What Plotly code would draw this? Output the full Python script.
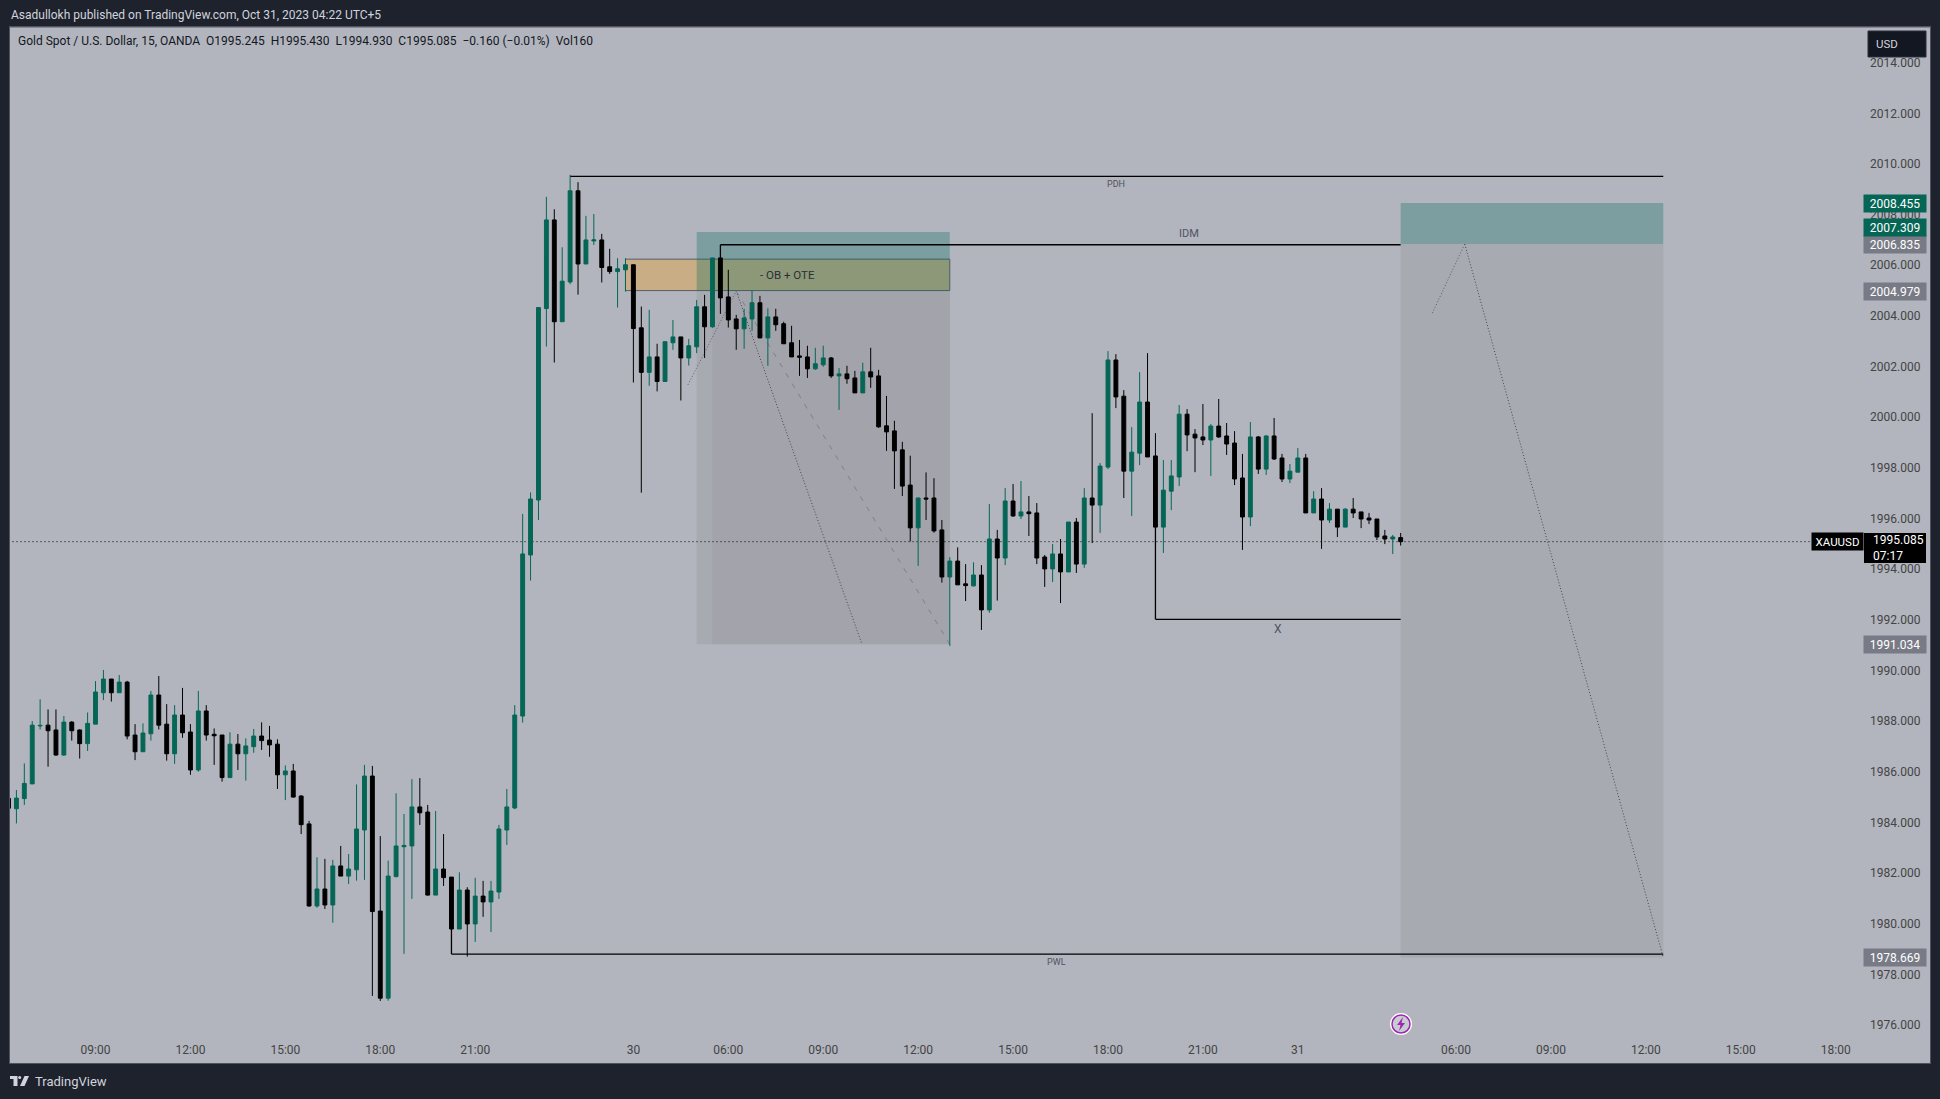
import plotly.graph_objects as go

open_ = [1984.95, 1984.54, 1984.94, 1985.52, 1987.81, 1987.84, 1987.65, 1986.66, 1987.96, 1987.65,
         1987.11, 1987.88, 1989.12, 1989.66, 1989.12, 1989.54, 1987.45, 1986.79, 1987.50, 1989.03,
         1987.88, 1986.71, 1988.24, 1987.57, 1986.07, 1988.40, 1987.48, 1987.45, 1985.77, 1987.09,
         1986.71, 1986.99, 1987.41, 1987.25, 1987.09, 1985.88, 1986.03, 1985.04, 1983.94, 1980.70,
         1981.37, 1980.74, 1982.28, 1981.88, 1982.13, 1983.70, 1985.83, 1980.50, 1977.06, 1981.86,
         1983.04, 1983.07, 1984.61, 1984.41, 1981.13, 1982.16, 1981.84, 1979.79, 1981.33, 1979.99,
         1981.09, 1980.86, 1981.25, 1983.70, 1984.57, 1988.20, 1994.56, 1996.73, 2004.29, 2007.79,
         2003.77, 2005.34, 2008.94, 2006.05, 2006.96, 2007.00, 2005.94, 2005.75, 2005.82, 2006.02,
         2003.53, 2001.77, 2002.38, 2001.41, 2002.94, 2003.17, 2002.34, 2002.78, 2004.36, 2003.57,
         2006.29, 2004.75, 2003.88, 2003.49, 2003.88, 2004.52, 2003.13, 2003.96, 2003.69, 2002.94,
         2002.42, 2002.38, 2001.91, 2002.07, 2002.34, 2001.63, 2001.71, 2001.55, 2000.96, 2001.79,
         2001.63, 1999.66, 1999.46, 1998.71, 1997.32, 1995.63, 1996.81, 1996.81, 1995.55, 1993.69,
         1994.32, 1993.42, 1993.34, 1993.77, 1992.39, 1995.19, 1994.44, 1996.69, 1996.10, 1996.26,
         1996.22, 1994.48, 1994.01, 1994.60, 1993.89, 1995.86, 1994.20, 1996.81, 1996.53, 1998.03,
         2002.26, 2000.83, 1997.87, 1998.58, 2000.60, 1998.47, 1995.66, 1997.08, 1997.64, 2000.12,
         1999.33, 1999.22, 1999.10, 1999.65, 1999.26, 1998.98, 1997.60, 1996.06, 1999.22, 1997.95,
         1999.26, 1998.39, 1997.56, 1997.83, 1998.39, 1996.22, 1996.77, 1995.94, 1996.37, 1995.66,
         1996.37, 1996.26, 1996.02, 1995.98, 1995.31, 1995.19, 1995.245]
high = [1985.08, 1985.28, 1986.33, 1988.00, 1988.86, 1988.46, 1988.46, 1988.20, 1988.00, 1987.67,
        1988.34, 1989.58, 1990.02, 1989.66, 1989.82, 1989.59, 1987.88, 1987.91, 1989.19, 1989.78,
        1988.67, 1988.63, 1989.31, 1987.88, 1989.19, 1988.63, 1987.71, 1987.45, 1987.56, 1987.49,
        1987.32, 1987.69, 1987.95, 1987.81, 1987.28, 1986.25, 1986.31, 1985.08, 1984.06, 1982.62,
        1982.56, 1982.52, 1983.07, 1982.75, 1985.50, 1986.27, 1986.23, 1983.46, 1982.49, 1985.15,
        1984.33, 1985.71, 1985.75, 1984.69, 1984.45, 1983.54, 1981.84, 1982.03, 1981.44, 1981.81,
        1981.69, 1981.69, 1983.90, 1985.32, 1988.63, 1996.18, 1997.03, 2004.33, 2008.70, 2008.21,
        2006.71, 2009.57, 2009.28, 2007.95, 2008.02, 2007.24, 2006.65, 2006.28, 2006.28, 2006.02,
        2004.37, 2004.24, 2002.90, 2002.99, 2003.84, 2003.17, 2003.09, 2004.63, 2004.83, 2006.29,
        2006.29, 2005.82, 2004.04, 2004.28, 2005.00, 2004.79, 2004.30, 2004.28, 2003.77, 2003.61,
        2003.05, 2002.82, 2002.74, 2002.82, 2002.38, 2001.94, 2002.03, 2001.83, 2002.15, 2002.74,
        2001.87, 2000.84, 1999.86, 1999.03, 1998.48, 1996.82, 1997.82, 1997.59, 1995.94, 1994.47,
        1994.86, 1994.20, 1994.27, 1994.16, 1996.57, 1995.55, 1997.20, 1997.36, 1997.48, 1996.89,
        1996.61, 1994.56, 1994.99, 1995.19, 1995.86, 1996.02, 1997.20, 2000.16, 1998.19, 2002.61,
        2002.49, 2001.07, 1999.61, 2001.78, 2002.53, 1999.37, 1998.31, 1998.31, 2000.48, 2000.32,
        1999.53, 2000.52, 1999.73, 2000.72, 1999.77, 1999.45, 1998.55, 1999.81, 1999.26, 1999.28,
        1999.97, 1998.55, 1998.15, 1998.78, 1998.55, 1997.08, 1997.20, 1996.61, 1996.37, 1996.41,
        1996.81, 1996.26, 1996.22, 1995.98, 1995.55, 1995.35, 1995.43]
low = [1984.49, 1983.96, 1984.69, 1985.52, 1987.67, 1986.20, 1986.63, 1986.63, 1987.23, 1986.52,
       1986.82, 1987.88, 1988.83, 1988.77, 1989.12, 1987.28, 1986.46, 1986.79, 1987.23, 1987.67,
       1986.44, 1986.31, 1987.34, 1985.88, 1986.00, 1987.23, 1986.27, 1985.61, 1985.77, 1986.07,
       1985.65, 1986.75, 1986.86, 1986.59, 1985.32, 1984.88, 1984.98, 1983.54, 1980.67, 1980.63,
       1980.58, 1980.04, 1981.88, 1981.57, 1981.70, 1981.73, 1977.15, 1976.95, 1976.96, 1981.83,
       1978.81, 1980.98, 1983.90, 1981.11, 1981.13, 1981.49, 1979.79, 1979.79, 1978.70, 1979.28,
       1980.27, 1979.67, 1980.98, 1983.11, 1984.52, 1987.94, 1993.55, 1995.94, 2002.79, 2002.16,
       2003.77, 2005.25, 2004.84, 2006.05, 2006.80, 2005.32, 2005.66, 2004.33, 2004.96, 2001.37,
       1997.02, 2001.24, 2001.02, 2001.41, 2002.66, 2000.66, 2002.04, 2002.53, 2002.34, 2003.53,
       2004.08, 2003.54, 2002.66, 2002.70, 2003.41, 2003.13, 2002.03, 2003.41, 2002.90, 2002.38,
       2001.63, 2001.55, 2001.87, 2001.99, 2001.55, 2000.29, 2001.32, 2000.96, 2000.96, 2001.16,
       1999.58, 1998.67, 1997.17, 1996.89, 1995.09, 1994.13, 1995.94, 1995.44, 1993.47, 1990.97,
       1993.38, 1992.74, 1993.31, 1991.60, 1992.28, 1992.76, 1994.16, 1996.07, 1995.98, 1995.31,
       1994.20, 1993.30, 1993.49, 1992.66, 1993.89, 1993.85, 1994.05, 1995.03, 1995.43, 1997.95,
       2000.36, 1996.81, 1996.10, 1998.11, 1998.43, 1995.66, 1994.64, 1996.33, 1997.28, 1998.66,
       1997.83, 1998.90, 1997.68, 1999.18, 1998.51, 1997.32, 1994.76, 1995.70, 1997.76, 1997.72,
       1998.31, 1997.44, 1997.40, 1997.83, 1996.22, 1996.22, 1994.80, 1995.82, 1995.27, 1995.66,
       1996.02, 1995.62, 1995.78, 1995.15, 1994.99, 1994.60, 1994.93]
close = [1984.56, 1984.96, 1985.54, 1987.84, 1987.83, 1987.62, 1986.66, 1987.96, 1987.62, 1987.11,
         1987.91, 1989.15, 1989.66, 1989.12, 1989.54, 1987.41, 1986.79, 1987.53, 1989.03, 1987.84,
         1986.71, 1988.24, 1987.54, 1986.07, 1988.40, 1987.45, 1987.42, 1985.77, 1987.09, 1986.71,
         1987.02, 1987.41, 1987.23, 1987.06, 1985.88, 1986.03, 1985.00, 1983.91, 1980.70, 1981.37,
         1980.74, 1982.28, 1981.88, 1982.16, 1983.74, 1985.83, 1980.48, 1977.06, 1981.88, 1983.07,
         1983.09, 1984.61, 1984.38, 1981.13, 1982.16, 1981.82, 1979.79, 1981.33, 1979.99, 1981.09,
         1980.86, 1981.29, 1983.74, 1984.61, 1988.24, 1994.60, 1996.77, 2004.33, 2007.79, 2003.77,
         2005.37, 2008.94, 2006.05, 2007.00, 2007.00, 2005.91, 2005.75, 2005.86, 2006.02, 2003.50,
         2001.77, 2002.38, 2001.41, 2002.98, 2003.17, 2002.34, 2002.82, 2004.36, 2003.57, 2006.29,
         2004.71, 2003.84, 2003.49, 2003.92, 2004.52, 2003.13, 2003.96, 2003.65, 2002.90, 2002.38,
         2002.37, 2001.91, 2002.11, 2002.34, 2001.63, 2001.71, 2001.52, 2000.96, 2001.79, 2001.59,
         1999.62, 1999.42, 1998.67, 1997.28, 1995.63, 1996.81, 1996.77, 1995.51, 1993.69, 1994.32,
         1993.38, 1993.35, 1993.77, 1992.39, 1995.19, 1994.44, 1996.69, 1996.10, 1996.26, 1996.19,
         1994.44, 1994.01, 1994.60, 1993.89, 1995.86, 1994.20, 1996.81, 1996.53, 1998.07, 2002.26,
         2000.80, 1997.87, 1998.62, 2000.60, 1998.43, 1995.66, 1997.12, 1997.68, 2000.12, 1999.30,
         1999.18, 1999.10, 1999.65, 1999.22, 1998.94, 1997.56, 1996.06, 1999.22, 1997.95, 1999.26,
         1998.35, 1997.56, 1997.87, 1998.39, 1996.22, 1996.77, 1995.94, 1996.37, 1995.66, 1996.37,
         1996.22, 1995.98, 1995.94, 1995.27, 1995.19, 1995.27, 1995.085]

# axis ticks
time_ticks = [11, 23, 35, 47, 59, 79, 91, 103, 115, 127, 139, 151, 163, 183, 195, 207, 219, 231]
time_labels = ["09:00", "12:00", "15:00", "18:00", "21:00", "30", "06:00", "09:00", "12:00", "15:00",
               "18:00", "21:00", "31", "06:00", "09:00", "12:00", "15:00", "18:00"]
price_ticks = [1976, 1978, 1980, 1982, 1984, 1986, 1988, 1990, 1992, 1994, 1996, 1998,
               2000, 2002, 2004, 2006, 2008, 2010, 2012, 2014]

# drawing levels
pdh, idm, idm_low = 2009.51, 2006.81, 2006.29
pwl, pwl_low = 1978.8, 1979.79
x_level, x_top = 1992.02, 1995.66
ob_top, ob_bottom = 2006.24, 2005.0
first_stop, first_entry, first_target = 2007.309, 2004.979, 1991.034
second_stop, second_entry, second_target = 2008.455, 2006.835, 1978.669
last_price = 1995.085

BG = "#b2b5be"
FRAME = "#1e222d"
GREEN = "#056656"
W, H = 1940, 1099

# pixel helpers for the page chrome
def px(x):
    return x / W

def py(y):
    return 1 - y / H

# bar 0 sits at 8.5 px, one bar is 7.91 px; 2012 at 113.3 px, one unit is 25.325 px
x_range = [(10 - 8.5) / 7.91, (1930 - 8.5) / 7.91]
y_range = [2012 - (1063 - 113.3) / 25.325, 2012 + (113.3 - 27.3) / 25.325]

fig = go.Figure(go.Candlestick(
    x=list(range(len(close))), open=open_, high=high, low=low, close=close,
    increasing=dict(line=dict(color=GREEN, width=1), fillcolor=GREEN),
    decreasing=dict(line=dict(color="#000000", width=1), fillcolor="#000000"),
    whiskerwidth=0, hoverinfo="skip",
))


def box(x0, x1, y0, y1, fill, line=None):
    fig.add_shape(type="rect", x0=x0, x1=x1, y0=y0, y1=y1, fillcolor=fill, layer="below",
                  line=dict(color=line or "rgba(0,0,0,0)", width=1))


def seg(x0, y0, x1, y1, color="#000000", width=1.3, dash="solid"):
    fig.add_shape(type="line", x0=x0, x1=x1, y0=y0, y1=y1, layer="below",
                  line=dict(color=color, width=width, dash=dash))


# orange order block and the first position tool
box(78, 119, ob_bottom, ob_top, "#c9ad84", "#5a5d66")
box(87, 119, first_stop, first_entry, "rgba(0,105,92,0.30)")
box(87, 119, first_entry, first_target, "rgba(130,130,130,0.22)")
box(89, 119, first_entry, first_target, "rgba(130,130,140,0.16)")
# second position tool
box(176, 209.2, second_entry, second_stop, "rgba(0,105,92,0.30)")
box(176, 209.2, second_target, second_entry, "rgba(130,130,130,0.22)")

# structure lines
seg(71, pdh, 209.2, pdh)
seg(90, idm_low, 90, idm)
seg(90, idm, 176, idm)
seg(56, pwl_low, 56, pwl)
seg(56, pwl, 209.2, pwl)
seg(145, x_top, 145, x_level)
seg(145, x_level, 176, x_level)
seg(0, last_price, 228.5, last_price, width=1, dash="1px,3px")

# hand drawn paths
seg(85.9, 2001.28, 92, first_entry, "#5a5d68", 1, "1px,2px")
seg(92, first_entry, 107.9, first_target, "#44474f", 1, "1px,2px")
seg(92, first_entry, 119, first_target, "#7d808b", 1, "5px,7px")
seg(180, 2004.11, 184.1, second_entry, "#5a5d68", 1, "1px,2px")
seg(184.1, second_entry, 209.2, second_target, "#44474f", 1, "1px,2px")


def note(x, y, text, size=11, color="#50535e", yshift=0):
    fig.add_annotation(x=x, y=y, text=text, showarrow=False, yshift=yshift,
                       font=dict(size=size, color=color, family="Roboto"))


note(140, pdh, "PDH", 9, yshift=-8)
note(149.2, idm, "IDM", 11, yshift=11)
note(132.5, pwl, "PWL", 9, yshift=-8)
note(160.5, x_level, "X", 12, yshift=-10)
note(98.5, (ob_top + ob_bottom) / 2, "- OB + OTE", 11.5, "#2a2e39")


def tag(value, fill, yshift=0):
    fig.add_annotation(x=px(1895), xref="paper", xanchor="center", y=value, text=f"{value:.3f}",
                       showarrow=False, width=62, height=17, bgcolor=fill, borderpad=0, yshift=yshift,
                       font=dict(size=12, color="#ffffff", family="Roboto"))


tag(second_target, "#787b86")
tag(first_target, "#787b86")
tag(first_entry, "#787b86")
tag(second_entry, "#787b86")
tag(first_stop, GREEN, yshift=5)
tag(second_stop, GREEN)

# last price label with countdown
fig.add_shape(type="rect", xref="paper", yref="paper", x0=px(1864), x1=px(1926), y0=py(563), y1=py(533),
              fillcolor="#000000", line=dict(width=0), layer="above")
fig.add_annotation(x=px(1871), xref="paper", xanchor="left", y=last_price, text=f"{last_price:.3f}<br>07:17",
                   showarrow=False, align="left", yshift=-6.5,
                   font=dict(size=12, color="#ffffff", family="Roboto"))
fig.add_annotation(x=px(1837), xref="paper", xanchor="center", y=last_price, text="XAUUSD", showarrow=False,
                   width=51, height=17, bgcolor="#000000", borderpad=0,
                   font=dict(size=11.5, color="#ffffff", family="Roboto"))

# page texts
def page_text(x, y, text, size, color, anchor="left"):
    fig.add_annotation(x=px(x), y=py(y), xref="paper", yref="paper", text=text, showarrow=False,
                       xanchor=anchor, yanchor="middle", font=dict(size=size, color=color, family="Roboto"))


page_text(9, 15, "Asadullokh published on TradingView.com, Oct 31, 2023 04:22 UTC+5", 12, "#d1d4dc")
page_text(16, 41.5, "Gold Spot / U.S. Dollar, 15, OANDA&nbsp;&nbsp;O1995.245&nbsp;&nbsp;H1995.430&nbsp;&nbsp;"
          "L1994.930&nbsp;&nbsp;C1995.085&nbsp;&nbsp;−0.160 (−0.01%)&nbsp;&nbsp;Vol160", 12, "#131722")
page_text(33, 1081, "TradingView", 13, "#d1d4dc")

# USD button
fig.add_shape(type="rect", xref="paper", yref="paper", x0=px(1868), x1=px(1926), y0=py(57), y1=py(31),
              fillcolor="#131722", line=dict(color="#2a2e39", width=1), layer="above")
page_text(1887, 44.3, "USD", 11.5, "#d1d4dc", "center")

# TradingView logo
logo = "#d1d4dc"
for a, b, c, d in [(10, 17.5, 1076, 1079), (13.5, 17.5, 1079, 1086)]:
    fig.add_shape(type="rect", xref="paper", yref="paper", x0=px(a), x1=px(b), y0=py(d), y1=py(c),
                  fillcolor=logo, line=dict(width=0), layer="above")
fig.add_shape(type="circle", xref="paper", yref="paper", x0=px(18.2), x1=px(21.2), y0=py(1079), y1=py(1076),
              fillcolor=logo, line=dict(width=0), layer="above")
fig.add_shape(type="path", xref="paper", yref="paper", fillcolor=logo, line=dict(width=0), layer="above",
              path=f"M {px(24.5)} {py(1076)} L {px(29)} {py(1076)} L {px(24.5)} {py(1086)} "
                   f"L {px(20)} {py(1086)} Z")

# lightning badge
fig.add_shape(type="circle", xref="paper", yref="paper", x0=px(1390), x1=px(1412), y0=py(1035), y1=py(1013),
              fillcolor="#ffffff", line=dict(width=0), layer="above")
fig.add_shape(type="circle", xref="paper", yref="paper", x0=px(1392), x1=px(1410), y0=py(1033), y1=py(1015),
              fillcolor="#c9cbd3", line=dict(color="#9c27b0", width=1.5), layer="above")
fig.add_shape(type="path", xref="paper", yref="paper", fillcolor="#9c27b0", line=dict(width=0), layer="above",
              path=f"M {px(1403)} {py(1017)} L {px(1397)} {py(1025)} L {px(1400.5)} {py(1025)} "
                   f"L {px(1399)} {py(1031)} L {px(1405)} {py(1023)} L {px(1401.5)} {py(1023)} Z")

fig.update_layout(
    width=W, height=H, margin=dict(l=0, r=0, t=0, b=0), paper_bgcolor=FRAME, plot_bgcolor=BG,
    showlegend=False, boxgap=0.3, hovermode=False, dragmode=False,
    font=dict(family="Roboto", size=12, color="#131722"),
    xaxis=dict(domain=[px(10), px(1930)], range=x_range, rangeslider=dict(visible=False),
               tickmode="array", tickvals=time_ticks, ticktext=time_labels,
               ticklabelposition="inside", ticklen=0, showgrid=False, zeroline=False,
               showline=True, mirror=True, linecolor="#50535e", linewidth=1, ticklabelstandoff=6),
    yaxis=dict(domain=[1 - 1063 / H, py(27.3)], range=y_range, side="right",
               tickmode="array", tickvals=price_ticks, tickformat=".3f",
               ticklabelposition="inside", ticklen=0, showgrid=False, zeroline=False,
               showline=True, mirror=True, linecolor="#50535e", linewidth=1, ticklabelstandoff=9),
)

# the page's default body margin would push the figure 8 px off
fig.write_html("out.html", config={"displayModeBar": False},
               post_script="document.body.style.margin='0';document.body.style.background='#1e222d';")
